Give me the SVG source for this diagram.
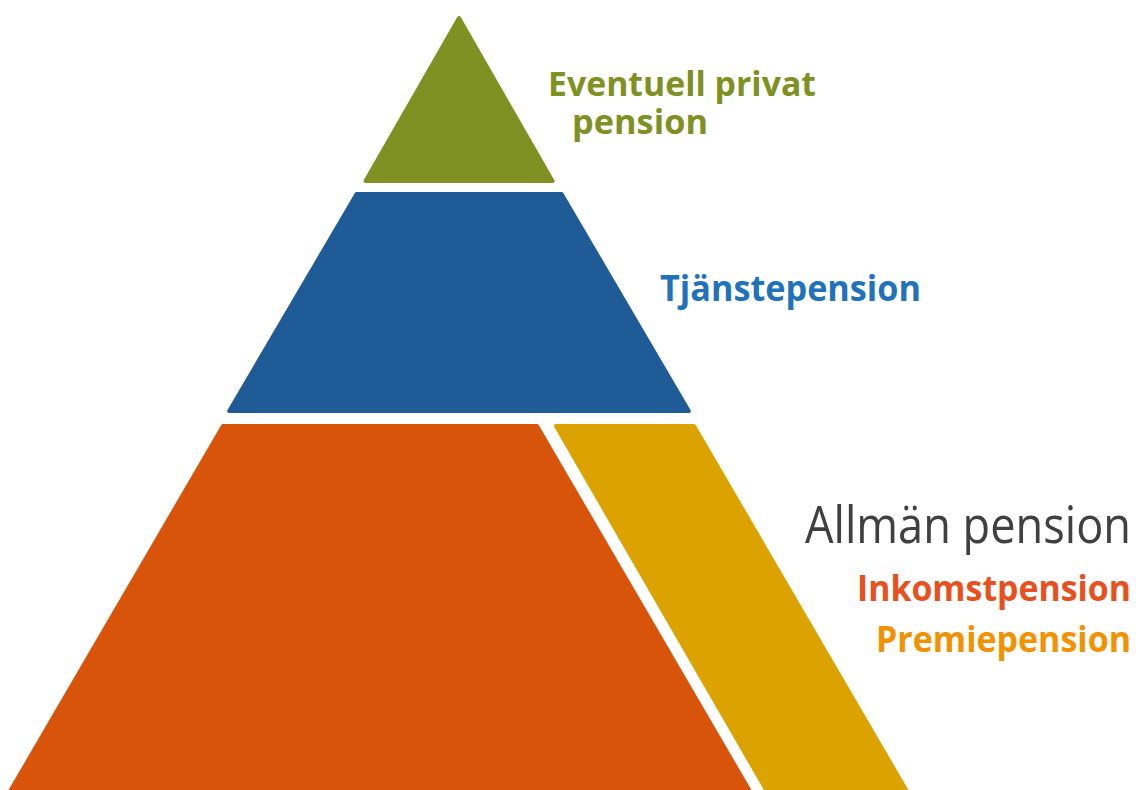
<svg xmlns="http://www.w3.org/2000/svg" width="1136" height="790" viewBox="0 0 1136 790">
<style>
.tier{stroke-width:4;stroke-linejoin:round}
.lbl{font-family:"Open Sans","Noto Sans","Liberation Sans",sans-serif}
.b{font-weight:bold;font-size:36px}
.g{font-weight:bold;font-size:34px}
</style>
<rect width="1136" height="790" fill="#ffffff"/>
<g id="privat">
<polygon class="tier" points="459,18 552.5,181 365.5,181" fill="#7F9122" stroke="#7F9122"/>
<text class="lbl g" fill="#7F9122" x="548" y="96" textLength="268" lengthAdjust="spacingAndGlyphs">Eventuell privat</text>
<text class="lbl g" fill="#7F9122" x="572" y="134" textLength="136" lengthAdjust="spacingAndGlyphs">pension</text>
</g>
<g id="tjanste">
<polygon class="tier" points="356.6,194 561.6,194 688.8,411 229.2,411" fill="#1F5C97" stroke="#1F5C97"/>
<text class="lbl b" fill="#2172BA" x="660" y="301" textLength="261" lengthAdjust="spacingAndGlyphs">Tjänstepension</text>
</g>
<g id="inkomst">
<polygon class="tier" points="223,426 537,426 755,800 5,800" fill="#D9540B" stroke="#D9540B"/>
</g>
<g id="premie">
<polygon class="tier" points="556,426 694,426 912,800 772,800" fill="#DCA300" stroke="#DCA300"/>
</g>
<g id="allman">
<text class="lbl" fill="#404040" font-size="52" x="1131" y="543" text-anchor="end" textLength="326" lengthAdjust="spacingAndGlyphs">Allmän pension</text>
<text class="lbl b" fill="#E8501E" x="1131" y="601" text-anchor="end" textLength="274" lengthAdjust="spacingAndGlyphs">Inkomstpension</text>
<text class="lbl b" fill="#F39200" x="1131" y="652" text-anchor="end" textLength="255" lengthAdjust="spacingAndGlyphs">Premiepension</text>
</g>
<g id="connectors"/>
</svg>
